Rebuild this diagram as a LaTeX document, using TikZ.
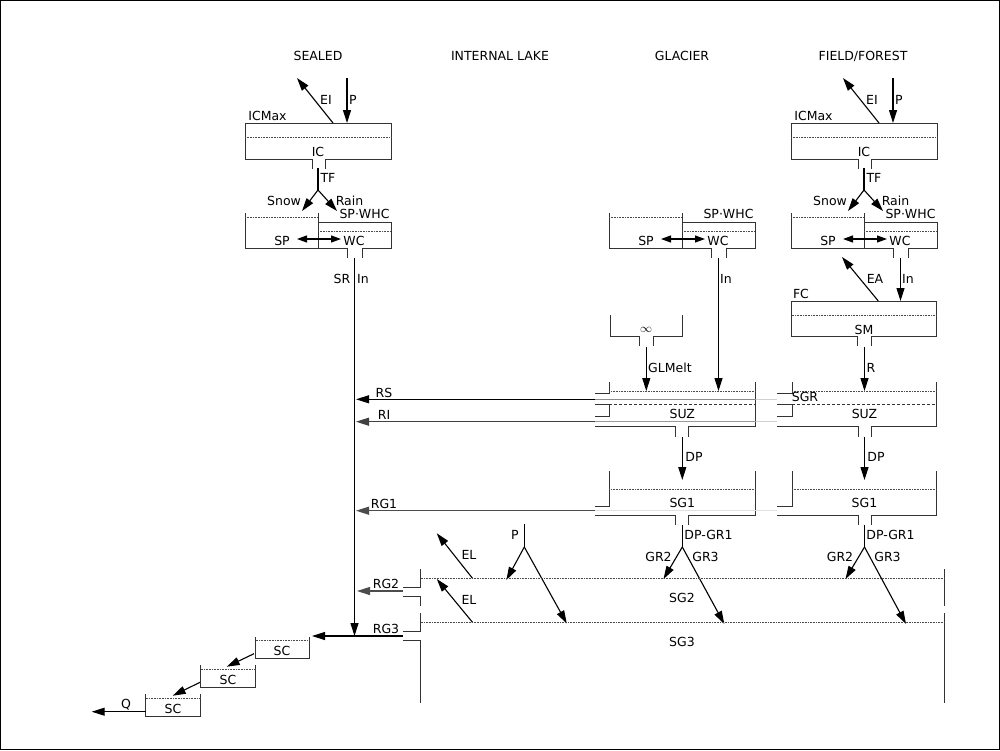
\documentclass[tikz,border=0pt]{standalone}
\usepackage{fontspec}
\setmainfont{DejaVu Sans}
\usetikzlibrary{arrows.meta}
\tikzset{
  lbl/.style={font=\fontsize{12.5}{15}\selectfont, inner sep=0pt},
  wall/.style={line width=1pt, draw=black!80},
  lvl/.style={densely dotted, line width=0.6pt, draw=black!70},
  thr/.style={dash pattern=on 3pt off 2pt, line width=0.8pt, draw=black!80},
  flow/.style={line width=1.1pt, -{Triangle[length=13pt,width=8pt]}},
  flowtwo/.style={line width=1.1pt, {Triangle[length=10pt,width=7pt]}-{Triangle[length=10pt,width=7pt]}},
  pipe/.style={line width=1.1pt}
}
\newcommand{\icgroup}[1]{%
  \draw[wall] (312,169) -- (312,159) -- (245,159) -- (245,123) -- (391,123) -- (391,159) -- (325,159) -- (325,169);
  \draw[lvl] (245,137) -- (391,137);
  \node[lbl] (#1-icmax) at (267.5,116) {ICMax};
  \node[lbl] (#1-ic) at (318,152) {IC};
  \coordinate (#1-psrc) at (347,78);
  \coordinate (#1-pin) at (347,123);
  \coordinate (#1-eis) at (333,123);
  \coordinate (#1-eio) at (297,78);
  \draw[flow] (#1-psrc) -- (#1-pin);
  \draw[flow] (#1-eis) -- (#1-eio);
  \node[lbl] (#1-p) at (353,100) {P};
  \node[lbl] (#1-ei) at (326,100) {EI};
  \coordinate (#1-tfa) at (318,168);
  \coordinate (#1-tfb) at (318,190);
  \coordinate (#1-snow) at (302,211);
  \coordinate (#1-rain) at (337,211);
  \draw[pipe] (#1-tfa) -- (#1-tfb);
  \draw[flow] (#1-tfb) -- (#1-snow);
  \draw[flow] (#1-tfb) -- (#1-rain);
  \node[lbl] (#1-tf) at (328,178) {TF};
  \node[lbl] (#1-snowl) at (284,201) {Snow};
  \node[lbl] (#1-rainl) at (349.5,201) {Rain};
}
\newcommand{\spwcgroup}[1]{%
  \draw[wall] (245,213) -- (245,248) -- (318,248) -- (318,213);
  \draw[lvl] (245,217) -- (318,217);
  \draw[wall] (318,248) -- (347,248) -- (347,258);
  \draw[wall] (362,258) -- (362,248) -- (391,248) -- (391,222) -- (318,222);
  \draw[lvl] (318,231) -- (391,231);
  \node[lbl] (#1-whc) at (364.5,214) {SP·WHC};
  \node[lbl] (#1-sp) at (282,241) {SP};
  \node[lbl] (#1-wc) at (354,241) {WC};
  \coordinate (#1-ma) at (297,239);
  \coordinate (#1-mb) at (341,239);
  \draw[flowtwo] (#1-ma) -- (#1-mb);
  \coordinate (#1-out) at (354.5,258);
}
\newcommand{\suzbox}[5]{%
  \draw[wall] (#2,382) -- (#2,393) -- (#3,393);
  \draw[wall] (#3,404) -- (#2,404) -- (#2,416.7) -- (#3,416.7);
  \draw[wall] (#3,426.7) -- ({#5-6.5},426.7) -- ({#5-6.5},436.7);
  \draw[wall] ({#5+6.5},436.7) -- ({#5+6.5},426.7) -- (#4,426.7) -- (#4,382);
  \draw[lvl] (#2,391) -- (#4,391);
  \draw[thr] (#2,404.3) -- (#4,404.3);
  \node[lbl] (#1-suz) at (#5,414) {SUZ};
  \coordinate (#1-in) at (#5,391);
  \coordinate (#1-out) at (#5,437);
}
\newcommand{\sgonebox}[5]{%
  \draw[wall] (#2,471) -- (#2,506.7) -- (#3,506.7);
  \draw[wall] (#3,515.7) -- ({#5-6.5},515.7) -- ({#5-6.5},525);
  \draw[wall] ({#5+6.5},525) -- ({#5+6.5},515.7) -- (#4,515.7) -- (#4,471);
  \draw[lvl] (#2,489.3) -- (#4,489.3);
  \node[lbl] (#1-sg1) at (#5,503) {SG1};
  \coordinate (#1-in) at (#5,480);
  \coordinate (#1-out) at (#5,525);
}
\begin{document}
\begin{tikzpicture}[x=1pt,y=-1pt]
\useasboundingbox (0,0) rectangle (1000,750);
\draw[line width=1pt] (0.5,0.5) rectangle (999.5,749.5);

% headers
\node[lbl] (h-sealed) at (318,56) {SEALED};
\node[lbl] (h-lake) at (500,56) {INTERNAL LAKE};
\node[lbl] (h-glacier) at (682,56) {GLACIER};
\node[lbl] (h-field) at (863,56) {FIELD/FOREST};

% sealed
\begin{scope}\icgroup{s}\spwcgroup{s}\end{scope}
% field/forest
\begin{scope}[xshift=546]\icgroup{f}\spwcgroup{f}\end{scope}
% glacier
\begin{scope}[xshift=364]\spwcgroup{g}\end{scope}

% sealed runoff
\coordinate (sr-end) at (354.5,636);
\draw[flow] (s-out) -- (sr-end);
\node[lbl] (l-sr) at (342,279) {SR};
\node[lbl] (l-sin) at (363,279) {In};

% glacier infinite store
\draw[wall] (610,315) -- (610,336.7) -- (639.3,336.7) -- (639.3,346);
\draw[wall] (653.3,346) -- (653.3,336.7) -- (682.3,336.7) -- (682.3,315);
\node[lbl] (l-inf) at (646,330) {$\infty$};
\coordinate (gl-a) at (646.3,347);
\coordinate (gl-b) at (646.3,391);
\draw[flow] (gl-a) -- (gl-b);
\node[lbl,anchor=west] (l-glmelt) at (648,368) {GLMelt};
\coordinate (g-inend) at (718.5,391);
\draw[flow] (g-out) -- (g-inend);
\node[lbl] (l-gin) at (726,279) {In};

% field soil moisture
\draw[wall] (857.3,346) -- (857.3,336.7) -- (791.7,336.7) -- (791.7,301) -- (936.7,301) -- (936.7,336.7) -- (871.7,336.7) -- (871.7,346);
\draw[lvl] (791.7,315.7) -- (936.7,315.7);
\node[lbl] (l-fc) at (801,294) {FC};
\node[lbl] (l-sm) at (864,330) {SM};
\coordinate (f-smin) at (900.5,301);
\draw[flow] (f-out) -- (f-smin);
\node[lbl] (l-fin) at (908,279) {In};
\coordinate (f-eas) at (878.3,301);
\coordinate (f-eat) at (842,257);
\draw[flow] (f-eas) -- (f-eat);
\node[lbl] (l-ea) at (875,279) {EA};
\coordinate (f-ra) at (864.5,347);

% upper zone boxes
\suzbox{gs}{609.3}{595}{755.7}{682.3}
\suzbox{fs}{792}{777}{936.7}{864.5}
\draw[flow] (f-ra) -- (fs-in);
\node[lbl] (l-r) at (871,368) {R};
\node[lbl] (l-sgr) at (805,397) {SGR};

% lower boxes SG1
\sgonebox{gg}{609.3}{595}{755.7}{682.3}
\sgonebox{fg}{792}{777}{936.7}{864.5}
\draw[flow] (gs-out) -- (gg-in);
\draw[flow] (fs-out) -- (fg-in);
\node[lbl] (l-gdp) at (694,457) {DP};
\node[lbl] (l-fdp) at (876,457) {DP};

% lateral outflows
\coordinate (rs-a) at (777,399.3);
\coordinate (rs-b) at (755.7,399.3);
\coordinate (rs-c) at (595,399.3);
\coordinate (rs-d) at (356,399.3);
\draw[line width=1.5pt, black!18] (rs-a) -- (rs-b);
\draw[line width=1.5pt, black!45] (rs-b) -- (rs-c);
\draw[flow] (rs-c) -- (rs-d);
\node[lbl] (l-rs) at (384,393) {RS};
\coordinate (ri-a) at (777,421.7);
\coordinate (ri-b) at (755.7,421.7);
\coordinate (ri-c) at (595,421.7);
\coordinate (ri-d) at (356,421.7);
\draw[line width=1.5pt, black!18] (ri-a) -- (ri-b);
\draw[line width=1.5pt, black!40] (ri-b) -- (ri-c);
\draw[flow, black!75] (ri-c) -- (ri-d);
\node[lbl] (l-ri) at (384,415) {RI};
\coordinate (rg-a) at (777,510.7);
\coordinate (rg-c) at (595,510.7);
\coordinate (rg-d) at (356,510.7);
\draw[line width=1.5pt, black!12] (rg-a) -- (rg-c);
\draw[flow, black!70] (rg-c) -- (rg-d);
\node[lbl] (l-rg1) at (384,504) {RG1};

% percolation split glacier / field
\coordinate (g-dpb) at (682.3,547);
\coordinate (g-gr2) at (663.5,579);
\coordinate (g-gr3) at (724.3,624);
\draw[pipe] (gg-out) -- (g-dpb);
\draw[flow] (g-dpb) -- (g-gr2);
\draw[flow] (g-dpb) -- (g-gr3);
\node[lbl] (l-gdpgr) at (708.5,535) {DP-GR1};
\node[lbl] (l-ggr2) at (658.5,557) {GR2};
\node[lbl] (l-ggr3) at (705.5,557) {GR3};
\coordinate (f-dpb) at (864.5,547);
\coordinate (f-gr2) at (845.5,579);
\coordinate (f-gr3) at (906,624);
\draw[pipe] (fg-out) -- (f-dpb);
\draw[flow] (f-dpb) -- (f-gr2);
\draw[flow] (f-dpb) -- (f-gr3);
\node[lbl] (l-fdpgr) at (890.5,535) {DP-GR1};
\node[lbl] (l-fgr2) at (840,557) {GR2};
\node[lbl] (l-fgr3) at (887.5,557) {GR3};

% internal lake
\coordinate (k-pa) at (524.3,524);
\coordinate (k-pb) at (524.3,547);
\coordinate (k-l) at (506.4,580);
\coordinate (k-r) at (566.8,623.5);
\draw[pipe] (k-pa) -- (k-pb);
\draw[flow] (k-pb) -- (k-l);
\draw[flow] (k-pb) -- (k-r);
\node[lbl] (l-kp) at (515,535) {P};
\coordinate (el1-a) at (472.5,578.3);
\coordinate (el1-b) at (436.8,533.3);
\coordinate (el2-a) at (472.5,622.3);
\coordinate (el2-b) at (436.8,579);
\draw[flow] (el1-a) -- (el1-b);
\draw[flow] (el2-a) -- (el2-b);
\node[lbl] (l-el1) at (469,555) {EL};
\node[lbl] (l-el2) at (469,600) {EL};

% groundwater box SG2 / SG3
\draw[wall] (420.7,569.3) -- (420.7,587) -- (403,587);
\draw[wall] (403,596) -- (420.7,596) -- (420.7,605.7);
\draw[wall] (420.7,613.3) -- (420.7,631) -- (403,631);
\draw[wall] (403,640) -- (420.7,640) -- (420.7,703);
\draw[wall] (944.3,569.3) -- (944.3,605.7);
\draw[wall] (944.3,613.3) -- (944.3,703);
\draw[lvl] (420.7,578.3) -- (944.3,578.3);
\draw[lvl] (420.7,622.3) -- (944.3,622.3);
\node[lbl] (l-sg2) at (682,598) {SG2};
\node[lbl] (l-sg3) at (682,642) {SG3};
\coordinate (rg2-a) at (403,591);
\coordinate (rg2-b) at (357,591);
\draw[flow, black!70] (rg2-a) -- (rg2-b);
\node[lbl] (l-rg2) at (386,584) {RG2};
\coordinate (rg3-a) at (403,636);
\coordinate (rg3-b) at (312,636);
\draw[flow] (rg3-a) -- (rg3-b);
\node[lbl] (l-rg3) at (386,629) {RG3};

% routing cascade
\draw[wall] (255.7,637) -- (255.7,658.3) -- (309.3,658.3) -- (309.3,637);
\draw[lvl] (255.7,640.3) -- (309.3,640.3);
\node[lbl] (l-sc1) at (282,651) {SC};
\draw[wall] (200.7,665.3) -- (200.7,687.3) -- (255.7,687.3) -- (255.7,665.3);
\draw[lvl] (200.7,669.3) -- (255.7,669.3);
\node[lbl] (l-sc2) at (228,680) {SC};
\draw[wall] (145.7,694.3) -- (145.7,716) -- (200.7,716) -- (200.7,694.3);
\draw[lvl] (145.7,698.3) -- (200.7,698.3);
\node[lbl] (l-sc3) at (173,709) {SC};
\coordinate (sc1-o) at (254,653.7);
\coordinate (sc2-i) at (226.7,666.7);
\coordinate (sc2-o) at (200,682.3);
\coordinate (sc3-i) at (172.7,695.7);
\coordinate (sc3-o) at (145.7,711.7);
\coordinate (q-end) at (91.7,711.7);
\draw[flow] (sc1-o) -- (sc2-i);
\draw[flow] (sc2-o) -- (sc3-i);
\draw[flow] (sc3-o) -- (q-end);
\node[lbl] (l-q) at (126,705) {Q};
\end{tikzpicture}
\end{document}
